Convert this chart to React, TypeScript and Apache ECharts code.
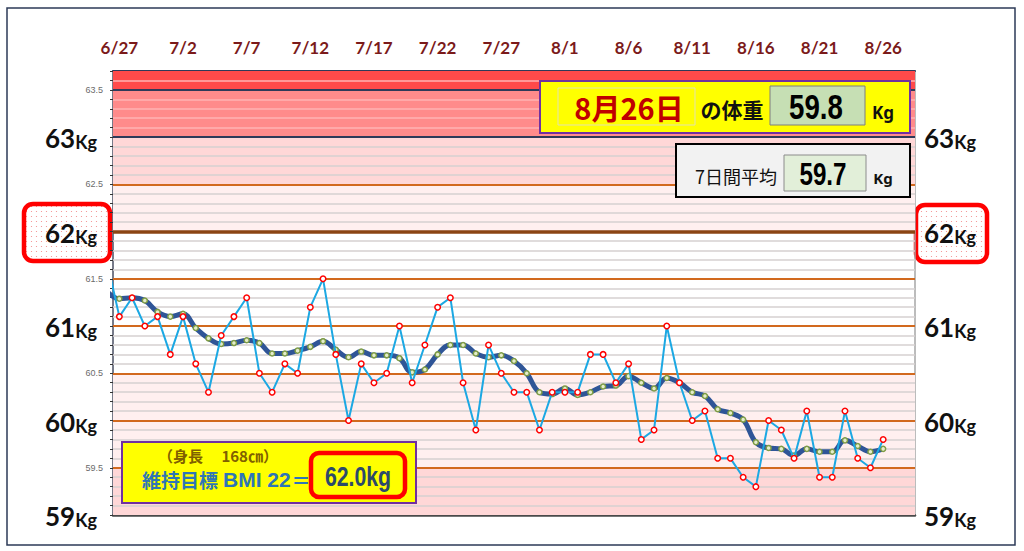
import React, { useEffect, useRef } from 'react'
import * as echarts from 'echarts'

// 日付ラベル（上側）とその位置（6/27 = 0 日目）
const dateTicks = ['6/27', '7/2', '7/7', '7/12', '7/17', '7/22', '7/27', '8/1', '8/6', '8/11', '8/16', '8/21', '8/26']
const tickDays = [0, 5, 10, 15, 20, 25, 30, 35, 40, 45, 50, 55, 60]

// 6/26 (-1 日目) から 8/26 までの体重
const startDay = -1
const weights = [
  61.7, 61.1, 61.3, 61.0, 61.1, 60.7, 61.1, 60.6, 60.3, 60.9, 61.1,
  61.3, 60.5, 60.3, 60.6, 60.5, 61.2, 61.5, 60.7, 60.0, 60.6, 60.4,
  60.5, 61.0, 60.4, 60.8, 61.2, 61.3, 60.4, 59.9, 60.8, 60.5, 60.3,
  60.3, 59.9, 60.3, 60.3, 60.3, 60.7, 60.7, 60.4, 60.6, 59.8, 59.9,
  61.0, 60.4, 60.0, 60.1, 59.6, 59.6, 59.4, 59.3, 60.0, 59.9, 59.6,
  60.1, 59.4, 59.4, 60.1, 59.6, 59.5, 59.8,
]

// 7日間移動平均
const average = [
  61.37, 61.29, 61.3, 61.27, 61.15, 61.1, 61.13, 60.98, 60.87, 60.81, 60.82,
  60.85, 60.82, 60.71, 60.71, 60.74, 60.78, 60.84, 60.75, 60.67, 60.73, 60.69,
  60.69, 60.66, 60.51, 60.54, 60.7, 60.8, 60.8, 60.71, 60.67, 60.69, 60.63,
  60.5, 60.3, 60.28, 60.34, 60.27, 60.3, 60.36, 60.37, 60.47, 60.4, 60.34,
  60.45, 60.4, 60.3, 60.26, 60.12, 60.08, 60.01, 59.77, 59.71, 59.7, 59.63,
  59.7, 59.67, 59.67, 59.79, 59.73, 59.67, 59.7,
]

// 背景の帯
const bandFrom = [63.5, 63, 62.5, 62, 59.5, 59]
const bandTo = [63.7, 63.5, 63, 62.5, 60.5, 59.5]
const bandColors = ['#FF4A4A', '#FF8B8B', '#FFD7D7', '#FFEFEF', '#FFEFEF', '#FFD7D7']

// 目盛り線
const orangeLines = [59.5, 60, 60.5, 61, 61.5, 62.5]
const navyLines = [63, 63.5]
const targetLine = 62

const dotSvg =
  "<svg xmlns='http://www.w3.org/2000/svg' width='5' height='5'><rect width='5' height='5' fill='#ffffff'/><circle cx='1.5' cy='1.5' r='0.6' fill='#f28a8a'/></svg>"
const dotPattern = {
  image: 'data:image/svg+xml;charset=utf-8,' + encodeURIComponent(dotSvg),
  repeat: 'repeat',
  imageWidth: 5,
  imageHeight: 5,
}

const CJK = "'Noto Sans CJK JP', sans-serif"
const SANS = "'Liberation Sans', sans-serif"

// 横に詰めた数字（Arial Narrow 風）
const narrowText = (text: string, x: number, y: number, font: string, fill: string, scaleX: number) => ({
  type: 'text',
  x,
  y,
  scaleX,
  style: { text, x: 0, y: 0, align: 'center', verticalAlign: 'middle', fill, font },
})

const App: React.FC = () => {
  const chartRef = useRef<HTMLDivElement>(null)

  useEffect(() => {
    if (!chartRef.current) return
    const chart = echarts.init(chartRef.current, undefined, { renderer: 'svg' })

    const rawData = weights.map((v, i) => [startDay + i, v])
    const avgData = average.map((v, i) => [startDay + i, v])

    // 0.1 刻みの補助線
    const minorLines: any[] = []
    for (let k = 591; k <= 636; k++) {
      const v = k / 10
      minorLines.push({
        yAxis: v,
        lineStyle: { color: v > 63 ? '#FFB3B3' : '#D6D0D0', width: 1.5, type: 'solid' },
      })
    }

    const bigRich = {
      b: { fontSize: 26, fontWeight: 'bold', fontFamily: 'Lato', color: '#111', lineHeight: 28, verticalAlign: 'bottom' },
      k: { fontSize: 18, fontWeight: 'bold', fontFamily: 'Lato', color: '#111', lineHeight: 22, verticalAlign: 'bottom' },
      kl: { fontSize: 18, fontWeight: 'bold', fontFamily: 'Lato', color: '#111', lineHeight: 22, verticalAlign: 'bottom', padding: [0, 6, 0, 0] },
      s: { fontSize: 9, color: '#6b6b6b', fontFamily: 'Liberation Sans' },
    }

    // 情報ボックスの要素（全て前面に）
    const front = (children: any[]) => children.map((c) => ({ ...c, z: 100, silent: true }))

    const option: any = {
      animation: false,
      backgroundColor: '#ffffff',
      grid: { left: 113, right: 109, top: 71, bottom: 36 },
      xAxis: [
        {
          type: 'value',
          position: 'top',
          min: -0.5,
          max: 62.5,
          axisLine: { show: true, onZero: false, lineStyle: { color: '#2E3A59', width: 2 } },
          axisTick: { show: false },
          splitLine: { show: false },
          axisLabel: {
            customValues: tickDays,
            formatter: (v: number) => {
              const i = tickDays.indexOf(Math.round(v))
              return i >= 0 ? dateTicks[i] : ''
            },
            color: '#7B1A1A',
            fontWeight: 'bold',
            fontSize: 17,
            fontFamily: 'Lato',
            margin: 15,
          },
        },
        {
          type: 'value',
          position: 'bottom',
          min: -0.5,
          max: 62.5,
          axisLine: { show: true, onZero: false, lineStyle: { color: '#4A4A4A', width: 2.5 } },
          axisTick: { show: false },
          axisLabel: { show: false },
          splitLine: { show: false },
        },
      ],
      yAxis: [
        {
          type: 'value',
          position: 'left',
          min: 59,
          max: 63.7,
          interval: 0.5,
          axisLine: { show: true, onZero: false, lineStyle: { color: '#4A4F63', width: 1.5 } },
          axisTick: { show: true, length: 3, lineStyle: { color: '#333' } },
          minorTick: { show: true, splitNumber: 5, length: 3, lineStyle: { color: '#333' } },
          splitLine: { show: false },
          axisLabel: {
            margin: 10,
            formatter: (v: number) => {
              const r = Math.round(v * 10) / 10
              if (Number.isInteger(r)) return `{b|${r}}{kl|Kg}`
              if (Math.abs(r * 2 - Math.round(r * 2)) < 1e-6) return `{s|${r.toFixed(1)}}`
              return ''
            },
            rich: bigRich,
          },
        },
        {
          type: 'value',
          position: 'right',
          min: 59,
          max: 63.7,
          interval: 0.5,
          axisLine: { show: true, onZero: false, lineStyle: { color: '#A6A6A6', width: 1.5 } },
          axisTick: { show: false },
          splitLine: { show: false },
          axisLabel: {
            margin: 9,
            formatter: (v: number) => {
              const r = Math.round(v * 10) / 10
              return Number.isInteger(r) ? `{b|${r}}{k|Kg}` : ''
            },
            rich: bigRich,
          },
        },
      ],
      series: [
        {
          name: 'bands',
          type: 'line',
          data: [],
          silent: true,
          z: 1,
          markArea: {
            silent: true,
            data: bandFrom.map((from, i) => [
              { yAxis: from, itemStyle: { color: bandColors[i] } },
              { yAxis: bandTo[i] },
            ]),
          },
        },
        {
          name: 'minor',
          type: 'line',
          data: [],
          silent: true,
          z: 2,
          markLine: {
            silent: true,
            symbol: ['none', 'none'],
            label: { show: false },
            data: minorLines,
          },
        },
        {
          name: 'major',
          type: 'line',
          data: [],
          silent: true,
          z: 3,
          markLine: {
            silent: true,
            symbol: ['none', 'none'],
            label: { show: false },
            data: [
              ...orangeLines.map((v) => ({ yAxis: v, lineStyle: { color: '#D2691E', width: 1.8, type: 'solid' } })),
              ...navyLines.map((v) => ({ yAxis: v, lineStyle: { color: '#2E3A59', width: 2.2, type: 'solid' } })),
              { yAxis: targetLine, lineStyle: { color: '#8B4513', width: 3.5, type: 'solid' } },
            ],
          },
        },
        {
          name: '7日平均',
          type: 'line',
          data: avgData,
          smooth: 0.4,
          clip: true,
          z: 5,
          symbol: 'circle',
          symbolSize: 5,
          lineStyle: { color: '#2F5597', width: 5 },
          itemStyle: { color: '#E4EDCB', borderColor: '#7E9C45', borderWidth: 1.5 },
        },
        {
          name: '体重',
          type: 'line',
          data: rawData,
          clip: true,
          z: 6,
          symbol: 'circle',
          symbolSize: 5.5,
          lineStyle: { color: '#1CA8E3', width: 2 },
          itemStyle: { color: '#ffffff', borderColor: '#FF0000', borderWidth: 1.5 },
        },
      ],
      graphic: [
        {
          type: 'rect',
          silent: true,
          z: -5,
          shape: { x: 7, y: 8, width: 1008, height: 537 },
          style: { fill: 'none', stroke: '#2C3A57', lineWidth: 1.5 },
        },
        {
          type: 'rect',
          silent: true,
          z: -1,
          shape: { x: 24, y: 204, width: 86, height: 57, r: 9 },
          style: { fill: dotPattern, stroke: '#FF0000', lineWidth: 4.5 },
        },
        {
          type: 'rect',
          silent: true,
          z: -1,
          shape: { x: 916, y: 205, width: 71, height: 57, r: 9 },
          style: { fill: dotPattern, stroke: '#FF0000', lineWidth: 4.5 },
        },
        // 当日の体重
        ...front([
          { type: 'rect', shape: { x: 540, y: 81, width: 370, height: 52 }, style: { fill: '#FFFF00', stroke: '#7030A0', lineWidth: 2 } },
          { type: 'rect', shape: { x: 558, y: 88, width: 137, height: 37 }, style: { fill: '#FFFF00', stroke: '#E2E2B0', lineWidth: 1 } },
          { type: 'text', style: { text: '8月26日', x: 629, y: 107, align: 'center', verticalAlign: 'middle', fill: '#C00000', font: `bold 29px ${CJK}` } },
          { type: 'text', style: { text: 'の体重', x: 732, y: 109, align: 'center', verticalAlign: 'middle', fill: '#111', font: `bold 21px ${CJK}` } },
          { type: 'rect', shape: { x: 770, y: 86, width: 95, height: 39 }, style: { fill: '#C6DFB4', stroke: '#7F7F7F', lineWidth: 1 } },
          narrowText('59.8', 816, 107, `bold 35px ${SANS}`, '#000', 0.79),
          { type: 'text', style: { text: 'Kg', x: 883, y: 112, align: 'center', verticalAlign: 'middle', fill: '#111', font: `bold 17px 'Noto Sans', sans-serif` } },
        ]),
        // 7日間平均
        ...front([
          { type: 'rect', shape: { x: 676, y: 144, width: 234, height: 53 }, style: { fill: '#F2F2F2', stroke: '#000', lineWidth: 2 } },
          { type: 'text', style: { text: '7日間平均', x: 736, y: 176, align: 'center', verticalAlign: 'middle', fill: '#111', font: `18px ${CJK}` } },
          { type: 'rect', shape: { x: 784, y: 155, width: 82, height: 36 }, style: { fill: '#E2EFD9', stroke: '#8C8C8C', lineWidth: 1 } },
          narrowText('59.7', 823, 174, `bold 31px ${SANS}`, '#000', 0.78),
          { type: 'text', style: { text: 'Kg', x: 883, y: 178, align: 'center', verticalAlign: 'middle', fill: '#111', font: `bold 15px 'Noto Sans', sans-serif` } },
        ]),
        // 維持目標
        ...front([
          { type: 'rect', shape: { x: 122, y: 442, width: 294, height: 61 }, style: { fill: '#FFFF00', stroke: '#7030A0', lineWidth: 2 } },
          { type: 'text', style: { text: '（身長　 168㎝）', x: 218, y: 455, align: 'center', verticalAlign: 'middle', fill: '#7F6000', font: `bold 15px ${CJK}` } },
          { type: 'text', style: { text: '維持目標', x: 142, y: 479, align: 'left', verticalAlign: 'middle', fill: '#2E75B6', font: `bold 19px ${CJK}` } },
          { type: 'text', style: { text: 'BMI 22', x: 223, y: 479, align: 'left', verticalAlign: 'middle', fill: '#2E75B6', font: `bold 21px ${SANS}` } },
          { type: 'text', style: { text: '＝', x: 301, y: 479, align: 'center', verticalAlign: 'middle', fill: '#2E75B6', font: `bold 19px ${CJK}` } },
          { type: 'rect', shape: { x: 311, y: 453, width: 94, height: 44, r: 8 }, style: { fill: '#FFFF00', stroke: '#FF0000', lineWidth: 4.5 } },
          narrowText('62.0kg', 358, 476, `bold 28px ${SANS}`, '#2C4A6B', 0.76),
        ]),
      ],
    }

    chart.setOption(option)

    return () => {
      chart.dispose()
    }
  }, [])

  return (
    <div
      ref={chartRef}
      style={{ position: 'fixed', left: 0, top: 0, width: 1024, height: 551, background: '#fff' }}
    />
  )
}

export default App
